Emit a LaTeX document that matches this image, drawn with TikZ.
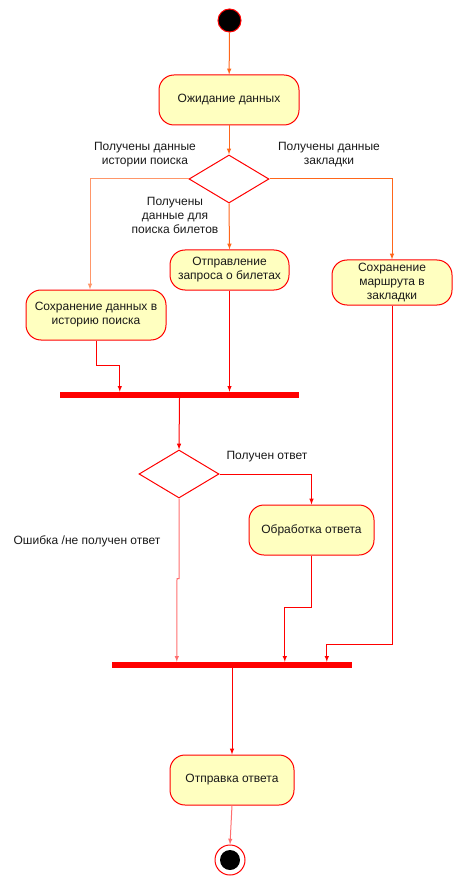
\documentclass[tikz,border=0pt]{standalone}
\usepackage{fontspec}
\setmainfont{Liberation Sans}
\usetikzlibrary{shapes.geometric,arrows,positioning}

\definecolor{red1}{RGB}{255,0,0}
\definecolor{red2}{RGB}{255,110,110}
\definecolor{orange1}{RGB}{255,102,26}
\definecolor{orange2}{RGB}{255,150,105}
\definecolor{yellow1}{RGB}{255,255,192}
\definecolor{text1}{RGB}{25,25,25}

\tikzstyle{arrow} = [draw, -latex, line width=1pt]
\tikzstyle{action} = [draw=red1, line width=1pt, fill=yellow1, rounded corners=15pt, align=center, text=text1,
    font=\fontsize{12pt}{14pt}\selectfont, inner sep=0pt]
\tikzstyle{choice} = [draw=red1, line width=1pt, diamond, minimum width=80pt, minimum height=48pt, inner sep=0pt]
\tikzstyle{bar} = [fill=red1, rectangle, minimum height=6pt, inner sep=0pt]
\tikzstyle{guard} = [align=center, text=text1, font=\fontsize{12pt}{14pt}\selectfont]

\begin{document}
\begin{tikzpicture}[x=1pt, y=-1pt, node distance=4em, auto]
    \useasboundingbox (0,0) rectangle (458,882);

    % start
    \node[circle, draw=red1, line width=1pt, fill=black, minimum size=23pt, inner sep=0pt] (start) at (229.5,20.5) {};

    % actions
    \node[action, minimum width=140pt, minimum height=50pt] (wait) at (229,100) {Ожидание данных};
    \node[action, minimum width=119pt, minimum height=40pt] (req) at (229.5,270) {Отправление\\запроса о билетах};
    \node[action, minimum width=140pt, minimum height=50pt] (hist) at (96,315) {Сохранение данных в\\историю поиска};
    \node[action, minimum width=120pt, minimum height=45pt] (bookm) at (392,282.5) {Сохранение\\маршрута в\\закладки};
    \node[action, minimum width=125pt, minimum height=50pt] (resp) at (311.5,530) {Обработка ответа};
    \node[action, minimum width=124pt, minimum height=50pt] (send) at (232,780) {Отправка ответа};

    % decisions
    \node[choice] (dec1) at (229,179) {};
    \node[choice] (dec2) at (179,474) {};

    % fork / join bars
    \node[bar, minimum width=239pt] (bar1) at (179.5,395) {};
    \node[bar, minimum width=240pt] (bar2) at (232,665) {};

    % end
    \node[circle, draw=red1, line width=1pt, fill=white, minimum size=30pt, inner sep=0pt] (endO) at (230,860) {};
    \node[circle, fill=black, minimum size=20pt, inner sep=0pt] (endI) at (endO.center) {};

    % guards
    \node[guard] (lblHist) at (145,155) {Получены данные\\истории поиска};
    \node[guard] (lblBook) at (329,155) {Получены данные\\закладки};
    \node[guard] (lblTick) at (175,215) {Получены\\данные для\\поиска билетов};
    \node[guard] (lblOk) at (267,457) {Получен ответ};
    \node[guard] (lblErr) at (87,541) {Ошибка /не получен ответ};

    % flows (upper part)
    \draw[arrow, orange1] (start) -- (wait);
    \draw[arrow, orange1] (wait) -- (dec1);
    \draw[arrow, orange2] (dec1.west) -| ([xshift=-6pt]hist.north);
    \draw[arrow, orange1] (dec1.east) -| (bookm.north);
    \draw[arrow, orange1] (dec1.south) -- (req.north);

    % flows into first bar
    \draw[arrow, red1] (hist.south) -- ++(0,25) -| ([xshift=60pt]bar1.north west);
    \draw[arrow, red1] (req.south) -- (req.south |- bar1.north);

    % flows (lower part)
    \draw[arrow, red1] (bar1.south) -- (dec2.north);
    \draw[arrow, red1] (dec2.east) -| (resp.north);
    \draw[arrow, red2] (dec2.south) -- ++(0,80) -- ++(-2,0) -- ([xshift=65pt]bar2.north west);
    \draw[arrow, red1] (resp.south) -- ++(0,52) -| ([xshift=173pt]bar2.north west);
    \draw[arrow, red1] (bookm.south) -- ++(0,339) -| ([xshift=215pt]bar2.north west);
    \draw[arrow, red1] (bar2.south) -- (send.north);
    \draw[arrow, red2] (send.south) -- (endO.north);
\end{tikzpicture}
\end{document}
